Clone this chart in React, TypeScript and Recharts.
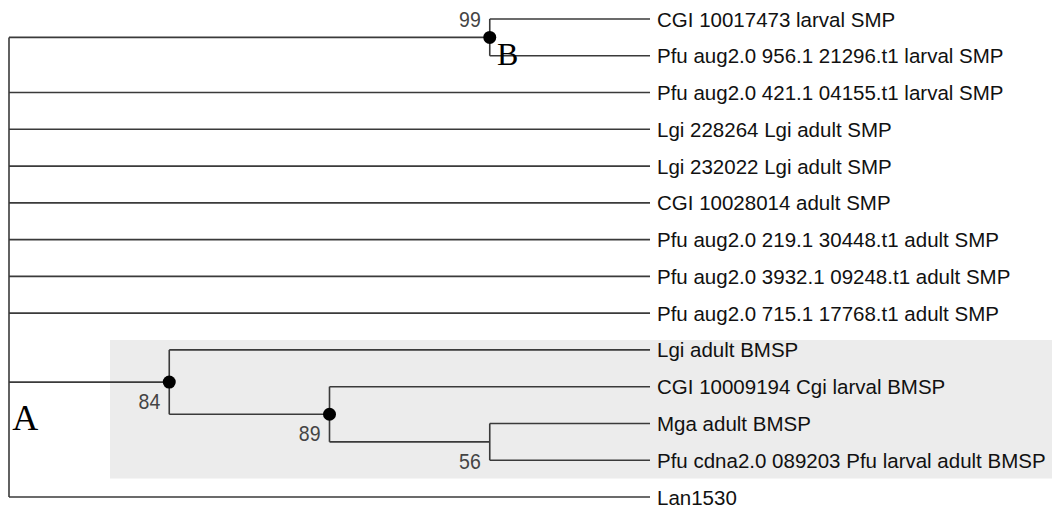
import { ComposedChart, Line, Scatter, XAxis, YAxis, ReferenceArea } from "recharts";

// leaf order top to bottom
const leafLabels = [
  "CGI 10017473 larval SMP",
  "Pfu aug2.0 956.1 21296.t1 larval SMP",
  "Pfu aug2.0 421.1 04155.t1 larval SMP",
  "Lgi 228264 Lgi adult SMP",
  "Lgi 232022 Lgi adult SMP",
  "CGI 10028014 adult SMP",
  "Pfu aug2.0 219.1 30448.t1 adult SMP",
  "Pfu aug2.0 3932.1 09248.t1 adult SMP",
  "Pfu aug2.0 715.1 17768.t1 adult SMP",
  "Lgi adult BMSP",
  "CGI 10009194 Cgi larval BMSP",
  "Mga adult BMSP",
  "Pfu cdna2.0 089203 Pfu larval adult BMSP",
  "Lan1530",
];
const leafDepth = 4;

// internal nodes (children: number = leaf index, string = node id)
const nodeIds = ["root", "n99", "n84", "n89", "n56"];
const nodeDepths = [0, 3, 1, 2, 3];
const nodeSupport: (number | null)[] = [null, 99, 84, 89, 56];
const nodeHasDot = [false, true, true, true, false];
const nodeChildren: (number | string)[][] = [
  ["n99", 2, 3, 4, 5, 6, 7, 8, "n84", 13],
  [0, 1],
  [9, "n89"],
  [10, "n56"],
  [11, 12],
];

// shaded BMSP clade box and letter marks
const boxX = [0.63, 6.6];
const boxY = [8.73, 12.5];
const marks = ["A", "B"];
const markX = [0.02, 3.045];
const markY = [11.18, 1.25];
const markSize = [36, 32];

type Pt = { x: number; y: number };

function nodeY(id: string): number {
  const i = nodeIds.indexOf(id);
  const kids = nodeChildren[i].map(c => (typeof c === "number" ? c : nodeY(c)));
  return (kids[0] + kids[kids.length - 1]) / 2;
}

function childPos(c: number | string): Pt {
  if (typeof c === "number") return { x: leafDepth, y: c };
  return { x: nodeDepths[nodeIds.indexOf(c)], y: nodeY(c) };
}

const segments: Pt[][] = [];
nodeIds.forEach((id, i) => {
  const x = nodeDepths[i];
  const kids = nodeChildren[i].map(childPos);
  segments.push([{ x, y: kids[0].y }, { x, y: kids[kids.length - 1].y }]);
  kids.forEach(k => segments.push([{ x, y: k.y }, { x: k.x, y: k.y }]));
});

const nodePoints = nodeIds.map((id, i) => ({
  x: nodeDepths[i],
  y: nodeY(id),
  support: nodeSupport[i],
  dot: nodeHasDot[i],
}));
const leafPoints = leafLabels.map((label, i) => ({ x: leafDepth, y: i, label }));
const markPoints = marks.map((m, i) => ({ x: markX[i], y: markY[i], label: m, size: markSize[i] }));

const LINE = "#3a3a3a";

export default function App() {
  return (
    <div style={{ position: "absolute", left: 0, top: 0, background: "#fff" }}>
      <ComposedChart width={1052} height={509} margin={{ top: 19, right: 402, bottom: 12, left: 9 }}>
        <XAxis type="number" dataKey="x" domain={[0, leafDepth]} hide />
        <YAxis type="number" dataKey="y" domain={[0, leafLabels.length - 1]} reversed hide />
        <ReferenceArea
          x1={boxX[0]}
          x2={boxX[1]}
          y1={boxY[0]}
          y2={boxY[1]}
          ifOverflow="visible"
          fill="#ececec"
          fillOpacity={1}
          stroke="none"
        />
        {segments.map((s, i) => (
          <Line
            key={`seg-${i}`}
            data={s}
            dataKey="y"
            type="linear"
            stroke={LINE}
            strokeWidth={1.6}
            dot={false}
            activeDot={false}
            isAnimationActive={false}
          />
        ))}
        <Scatter
          data={nodePoints.filter(n => n.dot)}
          isAnimationActive={false}
          shape={(p: any) => <circle cx={p.cx} cy={p.cy} r={6.5} fill="#000" />}
        />
        <Scatter
          data={nodePoints.filter(n => n.support !== null)}
          isAnimationActive={false}
          shape={(p: any) => {
            const above = p.payload.support === 99;
            const tx = p.cx - 9;
            const ty = above ? p.cy - 10 : p.cy + 27;
            return (
              <text
                x={tx}
                y={ty}
                transform={`translate(0 ${ty}) scale(1 1.15) translate(0 ${-ty})`}
                textAnchor="end"
                fontFamily="Liberation Sans, Arial, sans-serif"
                fontSize={19.5}
                fill="#444"
              >
                {p.payload.support}
              </text>
            );
          }}
        />
        <Scatter
          data={leafPoints}
          isAnimationActive={false}
          shape={(p: any) => (
            <text
              x={p.cx + 7}
              y={p.cy + 7.5}
              fontFamily="Liberation Sans, Arial, sans-serif"
              fontSize={20.5}
              fill="#111"
            >
              {p.payload.label}
            </text>
          )}
        />
        <Scatter
          data={markPoints}
          isAnimationActive={false}
          shape={(p: any) => (
            <text
              x={p.cx}
              y={p.cy}
              fontFamily="Liberation Serif, Times New Roman, serif"
              fontSize={p.payload.size}
              fill="#000"
            >
              {p.payload.label}
            </text>
          )}
        />
      </ComposedChart>
    </div>
  );
}
